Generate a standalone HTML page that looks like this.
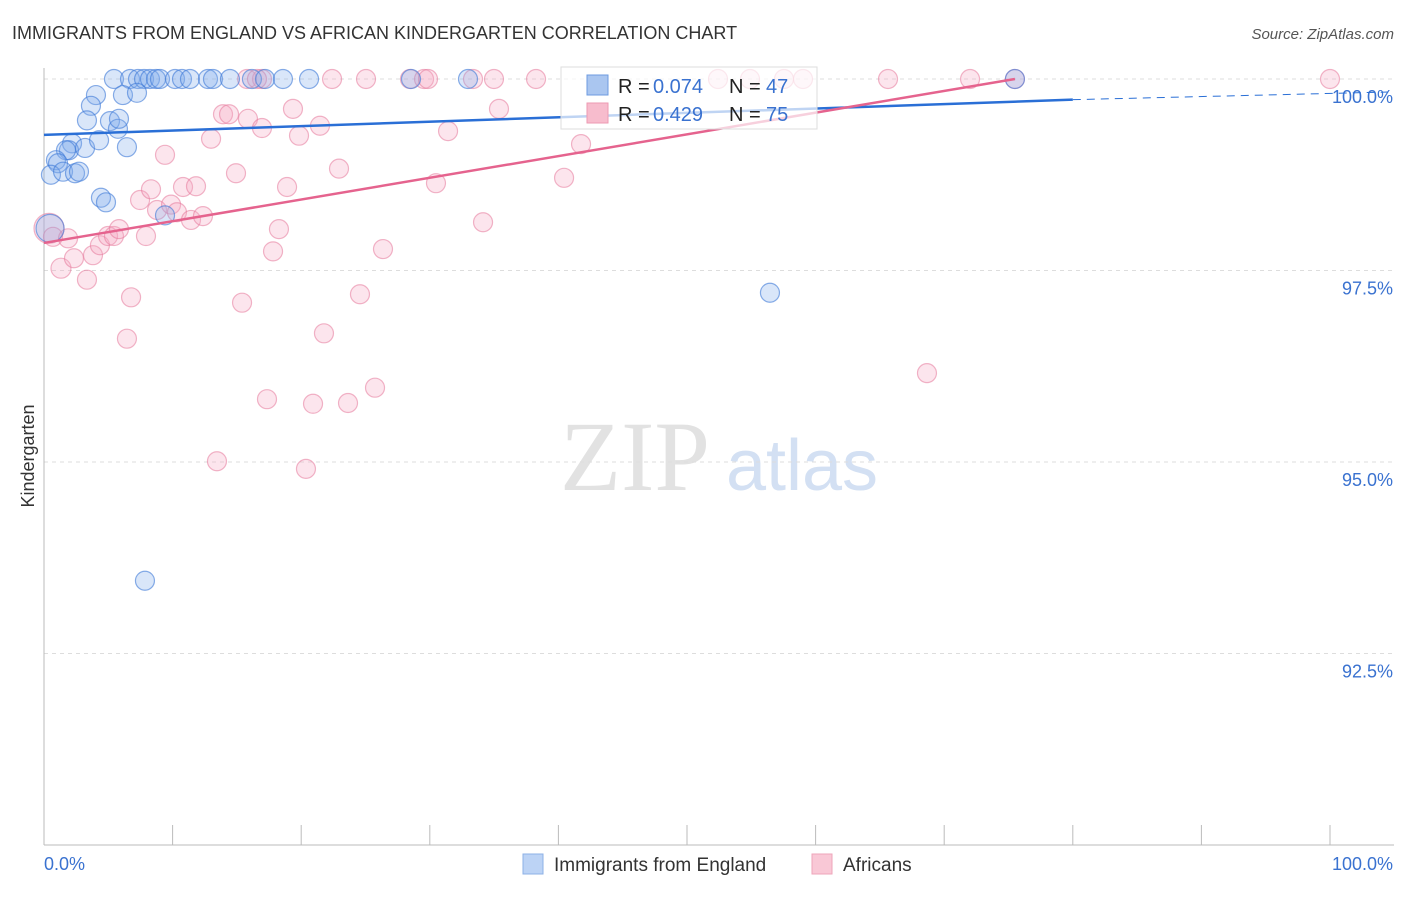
<!DOCTYPE html>
<html><head><meta charset="utf-8"><style>
body{margin:0;background:#fff;font-family:"Liberation Sans",sans-serif;}
</style></head><body>
<svg id="chart" width="1406" height="892" xmlns="http://www.w3.org/2000/svg" font-family="Liberation Sans, sans-serif">
<text x="12" y="39" font-size="18" fill="#333">IMMIGRANTS FROM ENGLAND VS AFRICAN KINDERGARTEN CORRELATION CHART</text>
<text x="1394" y="39" font-size="15" fill="#555" font-style="italic" text-anchor="end">Source: ZipAtlas.com</text>
<text x="34" y="456" font-size="18" fill="#333" text-anchor="middle" transform="rotate(-90 34 456)">Kindergarten</text>
<g><text x="635" y="490" font-size="100" fill="#e2e2e2" style="font-family:'Liberation Serif',serif" text-anchor="middle">ZIP</text><text x="802" y="490" font-size="72" fill="#d3e0f3" text-anchor="middle">atlas</text></g>
<g id="grid"></g><g id="axes"></g><g id="pts"></g><g id="trends"></g>
<g>
<rect x="561" y="67" width="256" height="62" fill="#fff" fill-opacity="0.7" stroke="#ddd"/>
<rect x="587" y="75" width="21" height="20" fill="#aac6f0" stroke="#6d9be0"/>
<text x="618" y="93" font-size="20" fill="#222">R =</text><text x="653" y="93" font-size="20" fill="#3a72d0">0.074</text>
<text x="729" y="93" font-size="20" fill="#222">N =</text><text x="766" y="93" font-size="20" fill="#3a72d0">47</text>
<rect x="587" y="103" width="21" height="20" fill="#f7bccd" stroke="#ee9ab2"/>
<text x="618" y="121" font-size="20" fill="#222">R =</text><text x="653" y="121" font-size="20" fill="#3a72d0">0.429</text>
<text x="729" y="121" font-size="20" fill="#222">N =</text><text x="766" y="121" font-size="20" fill="#3a72d0">75</text>
</g>
<g>
<rect x="523" y="854" width="20" height="20" fill="#bcd3f5" stroke="#8db0e6"/>
<text x="554" y="871" font-size="19" fill="#333">Immigrants from England</text>
<rect x="812" y="854" width="20" height="20" fill="#f9c8d6" stroke="#eea5ba"/>
<text x="843" y="871" font-size="19" fill="#333">Africans</text>
</g>
</svg>
<script>
const yTicks=[100,97.5,95,92.5];
const yTickLabels=["100.0%","97.5%","95.0%","92.5%"];
const xTickLabels=["0.0%","100.0%"];
const blueX=[5.44,6.69,7.31,7.78,8.24,8.71,9.02,10.19,10.73,11.35,12.75,13.14,14.46,16.17,17.19,18.58,20.61,28.54,32.97,75.5,4.04,6.14,7.23,3.65,3.34,5.13,5.75,5.83,2.18,1.94,1.71,3.19,4.28,6.45,0.93,1.09,0.54,1.48,2.41,2.72,4.43,4.82,9.41,0.47,56.45,7.85];
const blueY=[100,100,100,100,100,100,100,100,100,100,100,100,100,100,100,100,100,100,100,100,99.79,99.79,99.82,99.65,99.46,99.45,99.35,99.48,99.16,99.07,99.07,99.10,99.20,99.11,98.94,98.90,98.75,98.79,98.77,98.79,98.45,98.39,98.22,98.05,97.21,93.45];
const pinkX=[15.79,16.95,22.4,25.04,28.46,29.55,29.86,33.36,34.99,38.26,52.41,54.9,57.54,59.02,65.63,72.01,75.5,100,16.56,0.39,0.70,1.87,1.32,2.33,3.34,3.81,4.35,4.98,5.44,5.83,7.47,8.32,7.93,8.79,9.88,10.34,10.81,11.43,11.82,12.36,6.77,6.45,9.41,12.99,13.92,14.39,14.93,15.4,15.86,16.95,17.34,17.81,18.27,18.9,19.36,19.83,20.37,20.92,21.46,21.77,22.94,23.64,24.57,25.74,26.36,13.45,30.48,31.42,34.14,35.38,40.44,41.76,68.66];
const pinkY=[100,100,100,100,100,100,100,100,100,100,100,100,100,100,100,100,100,100,100,98.05,97.94,97.92,97.53,97.66,97.38,97.70,97.83,97.95,97.95,98.04,98.42,98.56,97.95,98.29,98.36,98.26,98.59,98.16,98.60,98.21,97.15,96.61,99.01,99.22,99.54,99.54,98.77,97.08,99.48,99.36,95.82,97.75,98.04,98.59,99.61,99.26,94.91,95.76,99.39,96.68,98.83,95.77,97.19,95.97,97.78,95.01,98.64,99.32,98.13,99.61,98.71,99.15,96.16];
const blueTrend=[99.27,99.73,99.83];
const pinkTrend=[97.86,100];
const X=v=>44+v*12.86, Y=v=>79+(100-v)*76.6;
const ns="http://www.w3.org/2000/svg";
function mk(tag,parent,attrs){const e=document.createElementNS(ns,tag);for(const k in attrs)e.setAttribute(k,attrs[k]);document.getElementById(parent).appendChild(e);return e;}
yTicks.forEach((t,i)=>{
 const g=mk('line','grid',{x1:44,x2:1394,y1:Y(t),y2:Y(t),stroke:'#ddd','stroke-dasharray':'4 4'});
 
 
 const l=mk('text','axes',{x:1393,y:Y(t)+24,'font-size':18,fill:'#3a72d0','text-anchor':'end'});l.textContent=yTickLabels[i];
 
 
});
let a=mk('line','axes',{x1:44,x2:44,y1:68,y2:845,stroke:'#bbb'});


a=mk('line','axes',{x1:44,x2:1394,y1:845,y2:845,stroke:'#bbb'});


for(let i=0;i<=10;i++){const t=mk('line','axes',{x1:X(i*10),x2:X(i*10),y1:825,y2:845,stroke:'#bbb'});
 
 }
let xl=mk('text','axes',{x:44,y:870,'font-size':18,fill:'#3a72d0'});xl.textContent=xTickLabels[0];


xl=mk('text','axes',{x:1393,y:870,'font-size':18,fill:'#3a72d0','text-anchor':'end'});xl.textContent=xTickLabels[1];


pinkX.forEach((x,i)=>{const r=i===19?15:(i===22?10:9.5);const c=mk('circle','pts',{cx:X(x),cy:Y(pinkY[i]),r:r,fill:'rgba(246,170,196,0.3)',stroke:'rgba(230,120,155,0.55)','stroke-width':1.2});
 
 });
blueX.forEach((x,i)=>{const r=i===43?14:9.5;const c=mk('circle','pts',{cx:X(x),cy:Y(blueY[i]),r:r,fill:'rgba(130,172,236,0.3)',stroke:'rgba(60,120,215,0.6)','stroke-width':1.2});
 
 });
let t=mk('line','trends',{x1:X(0),y1:Y(blueTrend[0]),x2:X(80),y2:Y(blueTrend[1]),stroke:'#2a6fd6','stroke-width':2.5});


t=mk('line','trends',{x1:X(80),y1:Y(blueTrend[1]),x2:X(104.5),y2:Y(blueTrend[2]),stroke:'#2a6fd6','stroke-width':1,'stroke-dasharray':'8 6'});


t=mk('line','trends',{x1:X(0),y1:Y(pinkTrend[0]),x2:X(75.5),y2:Y(pinkTrend[1]),stroke:'#e5638e','stroke-width':2.5});


</script>
</body></html>
